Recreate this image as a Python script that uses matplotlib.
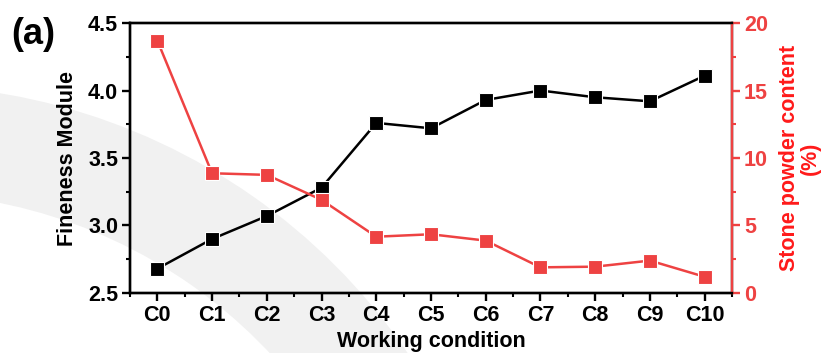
import numpy as np
import matplotlib.pyplot as plt
from matplotlib.patches import Wedge
from matplotlib.ticker import AutoMinorLocator

plt.rcParams['font.family'] = ['Liberation Sans', 'DejaVu Sans']
plt.rcParams['font.weight'] = 'bold'

# Data
conditions = ['C0', 'C1', 'C2', 'C3', 'C4', 'C5', 'C6', 'C7', 'C8', 'C9', 'C10']
fineness = [2.68, 2.90, 3.07, 3.28, 3.76, 3.72, 3.93, 4.00, 3.95, 3.92, 4.11]
stone_powder = [18.7, 8.87, 8.75, 6.9, 4.17, 4.35, 3.88, 1.9, 1.95, 2.4, 1.2]

red = '#EE4242'
x = np.arange(len(conditions))

fig = plt.figure(figsize=(8.31, 3.53), dpi=100)

# light grey arc in the background
arc = Wedge((-100, -347), 615, 15, 95, width=108, transform=None,
            facecolor='#f1f1f1', edgecolor='none', zorder=-5)
fig.patches.append(arc)

ax = fig.add_axes([0.1564, 0.170, 0.7245, 0.7648])
ax.patch.set_alpha(0)
ax2 = ax.twinx()
ax2.patch.set_alpha(0)

ax.plot(x, fineness, color='black', lw=1.8, marker='s', ms=10,
        mec='white', mew=0.8, zorder=3)
ax2.plot(x, stone_powder, color=red, lw=1.8, marker='s', ms=10,
         mec='white', mew=0.8, zorder=3)

ax.set_xlim(-0.5, 10.5)
ax.set_ylim(2.5, 4.5)
ax2.set_ylim(0, 20)
ax.set_xticks(x)
ax.set_xticklabels(conditions)
ax.set_yticks([2.5, 3.0, 3.5, 4.0, 4.5])
ax2.set_yticks([0, 5, 10, 15, 20])
ax.xaxis.set_minor_locator(AutoMinorLocator(2))
ax.yaxis.set_minor_locator(AutoMinorLocator(2))
ax2.yaxis.set_minor_locator(AutoMinorLocator(2))

for a in (ax, ax2):
    for s in a.spines.values():
        s.set_linewidth(1.7)
ax2.spines['right'].set_color(red)

ax.tick_params(axis='both', which='major', direction='out', length=5.5, width=1.7,
               labelsize=15.5, pad=3)
ax.tick_params(axis='both', which='minor', direction='out', length=3, width=1.5)
ax.tick_params(top=False, which='both')
ax2.tick_params(axis='y', which='major', direction='out', length=5.5, width=1.7,
                labelsize=15.5, colors=red, pad=3)
ax2.tick_params(axis='y', which='minor', direction='out', length=3, width=1.5, colors=red)

ax.set_xlabel('Working condition', fontsize=15.5, fontweight='bold', labelpad=4)
ax.set_ylabel('Fineness Module', fontsize=15.5, fontweight='bold', labelpad=7)
ax2.set_ylabel('Stone powder content\n(%)', fontsize=15.5, fontweight='bold',
               color='#FF1A1A', labelpad=8, linespacing=1.0)

fig.text(0.014, 0.875, '(a)', fontsize=26, fontweight='bold')

fig.savefig('out.png', dpi=100)
